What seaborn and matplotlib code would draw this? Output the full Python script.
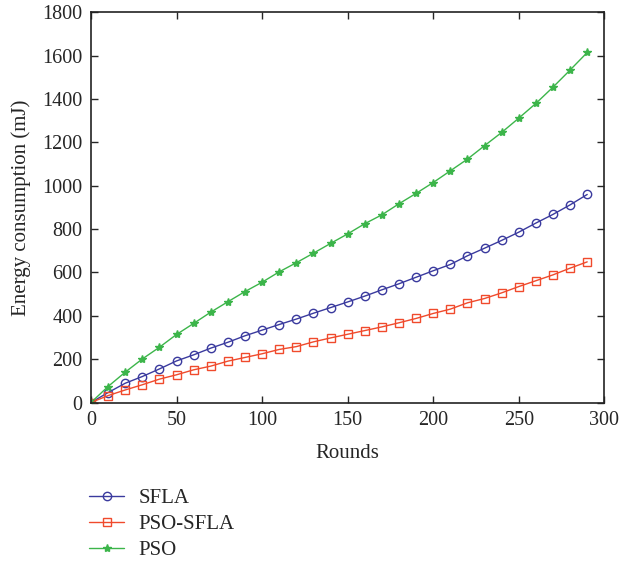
import numpy as np
import pandas as pd
import matplotlib
matplotlib.use("Agg")
import matplotlib.pyplot as plt
import seaborn as sns

rounds = list(range(0, 300, 10))
sfla = [0, 46, 89, 120, 155, 192, 220, 251, 278, 308, 334, 360, 385, 412, 438,
        464, 491, 520, 548, 578, 608, 637, 677, 712, 748, 786, 828, 868, 912, 960]
pso_sfla = [0, 32, 58, 82, 108, 128, 151, 168, 191, 208, 225, 245, 258, 280, 298,
            315, 332, 349, 368, 388, 411, 431, 460, 480, 506, 535, 562, 589, 620, 649]
pso = [0, 74, 140, 201, 255, 314, 365, 417, 465, 512, 555, 603, 645, 689, 734,
       778, 825, 866, 917, 965, 1015, 1069, 1123, 1185, 1246, 1312, 1380, 1455, 1534, 1615]

series_names = ["SFLA", "PSO-SFLA", "PSO"]
colors = {"SFLA": "#3a3a9e", "PSO-SFLA": "#f04a2c", "PSO": "#3cb54a"}
markers = {"SFLA": "o", "PSO-SFLA": "s", "PSO": "*"}

df = pd.DataFrame({"Rounds": rounds * 3,
                   "Energy": sfla + pso_sfla + pso,
                   "Method": ["SFLA"] * len(rounds) + ["PSO-SFLA"] * len(rounds) + ["PSO"] * len(rounds)})

sns.set_style("ticks")
plt.rcParams["font.family"] = ["Liberation Serif", "DejaVu Serif"]

fig = plt.figure(figsize=(6.23, 5.63), dpi=100)
ax = fig.add_axes([0.146, 0.285, 0.824, 0.693])

for name in series_names:
    sub = df[df["Method"] == name]
    mfc = colors[name] if markers[name] == "*" else "none"
    sns.lineplot(data=sub, x="Rounds", y="Energy", ax=ax, color=colors[name],
                 marker=markers[name], markersize=6,
                 markerfacecolor=mfc, markeredgecolor=colors[name],
                 markeredgewidth=1.0, linewidth=1.0, label=name, legend=False)

ax.set_xlim(0, 300)
ax.set_ylim(0, 1800)
ax.set_xticks(np.arange(0, 301, 50))
ax.set_yticks(np.arange(0, 1801, 200))
ax.tick_params(direction="in", top=True, right=True, length=5, width=1.0,
               labelsize=14.5, pad=6)
for sp in ax.spines.values():
    sp.set_linewidth(1.2)
    sp.set_color("#222222")
ax.set_xlabel("Rounds", fontsize=15, labelpad=10)
ax.set_ylabel("Energy consumption (mJ)", fontsize=15, labelpad=8)

handles = ax.get_lines()
fig.legend(handles, series_names, loc="upper left", bbox_to_anchor=(0.13, 0.147),
           frameon=False, fontsize=15, handlelength=1.65, handletextpad=0.7,
           labelspacing=0.3, borderaxespad=0)

fig.savefig("out.png", dpi=100)
